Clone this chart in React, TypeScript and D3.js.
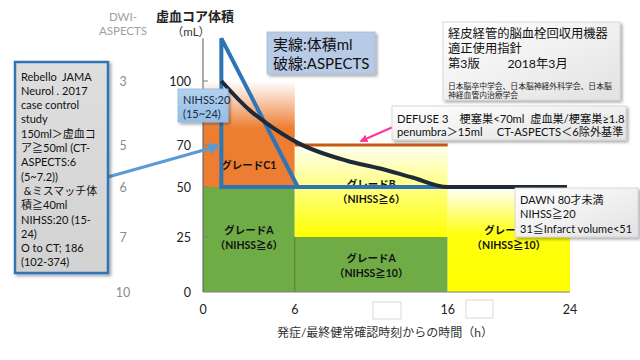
import React from "react";
import * as d3 from "d3";

// ---- data ----
const xTicks = [0, 6, 16, 24];
const yTicks = [0, 25, 50, 70, 100];
const aspectsTicks = ["10", "7", "6", "5", "3"];
const curveTime = [1.2, 3.1, 4.1, 6.2, 9.4, 11.6, 13.7, 16, 23.8];
const curveVolume = [100, 86, 80.5, 71, 62.5, 58.8, 54.5, 50, 50];
const blueTime = [6.2, 1.2, 1.2, 16];
const blueVolume = [50, 120, 50, 50];
const gradeNames = ["グレードA", "グレードA", "グレードC1", "グレードB", "グレードB"];
const gradeNihss = ["（NIHSS≧6）", "（NIHSS≧10）", "", "（NIHSS≧6）", "（NIHSS≧10）"];
const gradeT0 = [0, 6, 0, 6, 16];
const gradeT1 = [6, 16, 6, 16, 24];
const gradeV0 = [0, 0, 50, 25, 0];
const gradeV1 = [50, 25, 100, 70, 50];
const gradeLabelV = [25, 12.5, 60.5, 48, 25];
const defuseLimit = [6, 16, 70];
const leftNote = [
  "Rebello  JAMA",
  "Neurol . 2017",
  "case control",
  "study",
  "150ml＞虚血コ",
  "ア≧50ml (CT-",
  "ASPECTS:6",
  "(5~7.2))",
  " &ミスマッチ体",
  "積≧40ml",
  "NIHSS:20 (15-",
  "24)",
  "O to CT; 186",
  "(102-374)",
];
const titleLines = ["経皮経管的脳血栓回収用機器", "適正使用指針", "第3版　　 2018年3月"];
const societyLines = ["日本脳卒中学会、日本脳神経外科学会、日本脳", "神経血管内治療学会"];
const defuseLines = ["DEFUSE 3　梗塞巣<70ml  虚血巣/梗塞巣≥1.8", "penumbra＞15ml　 CT-ASPECTS＜6除外基準"];
const dawnLines = ["DAWN 80才未満", "NIHSS≧20", "31≦Infarct volume<51"];

const FONT = "Lato, 'Noto Sans CJK JP', 'Noto Sans', sans-serif";
const regionFills = ["#6fac46", "#6fac46", "url(#gOrange)", "url(#gYellowB)", "url(#gYellowB2)"];

export default function App() {
  const x = d3.scaleLinear().domain([0, 24]).range([203, 570]);
  const y = d3.scaleLinear().domain([0, 25, 50, 70, 100]).range([292, 237, 187, 145, 81]);
  const yTop = d3.scaleLinear().domain([70, 100]).range([145, 81]);

  const curvePts = curveTime.map((t, i) => [x(t), y(curveVolume[i])] as [number, number]);
  const curvePath = d3.line().curve(d3.curveMonotoneX)(curvePts) || "";
  const bluePts = blueTime.map((t, i) => [x(t), blueVolume[i] > 100 ? yTop(blueVolume[i]) : y(blueVolume[i])] as [number, number]);
  const bluePath = d3.line()(bluePts) || "";

  return (
    <svg width={640} height={360} style={{ position: "absolute", left: 0, top: 0, background: "#fff" }} fontFamily={FONT}>
      <defs>
        <linearGradient id="gOrange" x1="0" y1="0" x2="0" y2="1">
          <stop offset="0%" stopColor="#ffffff" />
          <stop offset="18%" stopColor="#f8cdb2" />
          <stop offset="45%" stopColor="#ed7d31" />
          <stop offset="100%" stopColor="#ed7d31" />
        </linearGradient>
        <linearGradient id="gYellowB" x1="0" y1="0" x2="0" y2="1">
          <stop offset="0%" stopColor="#fffff2" />
          <stop offset="65%" stopColor="#ffff55" />
          <stop offset="100%" stopColor="#ffff00" />
        </linearGradient>
        <linearGradient id="gYellowB2" x1="0" y1="0" x2="0" y2="1">
          <stop offset="0%" stopColor="#ffffff" />
          <stop offset="45%" stopColor="#ffff10" />
          <stop offset="100%" stopColor="#ffff00" />
        </linearGradient>
        <linearGradient id="gNihss" x1="0" y1="0" x2="0" y2="1">
          <stop offset="0%" stopColor="#b4d2f0" />
          <stop offset="100%" stopColor="#94bde6" />
        </linearGradient>
        <linearGradient id="gGray" x1="0" y1="0" x2="1" y2="1">
          <stop offset="0%" stopColor="#ffffff" />
          <stop offset="100%" stopColor="#e2e2e2" />
        </linearGradient>
        <linearGradient id="gLeft" x1="0" y1="0" x2="0" y2="1">
          <stop offset="0%" stopColor="#dedede" />
          <stop offset="100%" stopColor="#d2d2d2" />
        </linearGradient>
        <filter id="shadow" x="-10%" y="-10%" width="130%" height="130%">
          <feDropShadow dx="2" dy="2" stdDeviation="1.5" floodColor="#000" floodOpacity="0.35" />
        </filter>
        <marker id="arrowBlue" viewBox="0 0 10 10" refX="8" refY="5" markerWidth="4" markerHeight="4" orient="auto">
          <path d="M0,0 L10,5 L0,10 z" fill="#5b9bd5" />
        </marker>
        <marker id="arrowPink" viewBox="0 0 10 10" refX="8" refY="5" markerWidth="4" markerHeight="4" orient="auto">
          <path d="M0,0 L10,5 L0,10 z" fill="#ff3399" />
        </marker>
      </defs>

      {/* regions */}
      {gradeT0.map((t0, i) => (
        <rect key={"r" + i} x={x(t0)} y={y(gradeV1[i])} width={x(gradeT1[i]) - x(t0)} height={y(gradeV0[i]) - y(gradeV1[i])} fill={regionFills[i]} />
      ))}
      <line x1={x(6)} x2={x(6)} y1={y(0)} y2={y(25)} stroke="#4a7a30" strokeWidth={1} />

      {/* grade labels */}
      {gradeNames.map((n, i) => {
        const cx = (x(gradeT0[i]) + x(gradeT1[i])) / 2;
        const cy = y(gradeLabelV[i]);
        const two = gradeNihss[i] !== "";
        return (
          <g key={"g" + i} fontSize={10.5} fontWeight="bold" fill="#111" textAnchor="middle">
            <text x={cx} y={two ? cy - 7 : cy} dominantBaseline="central">{n}</text>
            {two && <text x={cx} y={cy + 8} dominantBaseline="central">{gradeNihss[i]}</text>}
          </g>
        );
      })}

      {/* DEFUSE limit line */}
      <line x1={x(defuseLimit[0])} x2={x(defuseLimit[1])} y1={y(defuseLimit[2])} y2={y(defuseLimit[2])} stroke="#c55a11" strokeWidth={3} />

      {/* axes */}
      <line x1={x(0)} x2={x(24)} y1={y(0)} y2={y(0)} stroke="#7f7f7f" strokeWidth={1} />
      <line x1={x(0)} x2={x(0)} y1={y(0)} y2={yTop(120)} stroke="#595959" strokeWidth={1} />
      {yTicks.map((v, i) => (
        <g key={"yt" + i}>
          {v > 0 && <line x1={x(0)} x2={x(0) + 5} y1={y(v)} y2={y(v)} stroke="#7f7f7f" />}
          <text x={191} y={y(v)} textAnchor="end" dominantBaseline="central" fontSize={12.5} fill="#222">{v}</text>
          <text x={123} y={y(v)} textAnchor="middle" dominantBaseline="central" fontSize={12.5} fill="#8c8c8c">{aspectsTicks[i]}</text>
        </g>
      ))}
      {xTicks.map((t) => (
        <text key={"xt" + t} x={x(t)} y={309} textAnchor="middle" dominantBaseline="central" fontSize={12.5} fill="#222">{t}</text>
      ))}
      <text x={385} y={332} textAnchor="middle" dominantBaseline="central" fontSize={12} fill="#333">発症/最終健常確認時刻からの時間（h）</text>
      <text x={195} y={16} textAnchor="middle" dominantBaseline="central" fontSize={13} fontWeight="bold" fill="#222">虚血コア体積</text>
      <text x={191} y={31} textAnchor="middle" dominantBaseline="central" fontSize={11.5} fill="#333">（mL）</text>
      <text x={123} y={16} textAnchor="middle" dominantBaseline="central" fontSize={11.5} fill="#a0a0a0">DWI-</text>
      <text x={123} y={30} textAnchor="middle" dominantBaseline="central" fontSize={11.5} fill="#a0a0a0">ASPECTS</text>

      {/* empty boxes near the x axis */}
      <rect x={373} y={302} width={28} height={17} fill="#fff" stroke="#d9d9d9" />
      <rect x={466} y={300} width={27} height={18} fill="#fff" stroke="#d9d9d9" />

      {/* lines */}
      <path d={bluePath} fill="none" stroke="#2e75b6" strokeWidth={4} strokeLinejoin="miter" />
      <path d={curvePath} fill="none" stroke="#1f2a38" strokeWidth={4} />

      {/* connectors */}
      <line x1={108} y1={177} x2={x(1)} y2={y(69.5)} stroke="#5b9bd5" strokeWidth={3} markerEnd="url(#arrowBlue)" />
      <line x1={393} y1={127} x2={361} y2={141} stroke="#ff3399" strokeWidth={2} markerEnd="url(#arrowPink)" />

      {/* left note box */}
      <rect x={15} y={62} width={93} height={211} fill="url(#gLeft)" stroke="#2e75b6" strokeWidth={2.5} filter="url(#shadow)" />
      {leftNote.map((l, i) => (
        <text key={"ln" + i} x={21} y={76 + i * 14.3} dominantBaseline="central" fontSize={11} fill="#111" xmlSpace="preserve">{l}</text>
      ))}

      {/* NIHSS box */}
      <rect x={178} y={89} width={50} height={33} fill="url(#gNihss)" stroke="#8fb6df" strokeWidth={0.8} filter="url(#shadow)" />
      <text x={183} y={99} dominantBaseline="central" fontSize={11} fill="#1a2a40">NIHSS:20</text>
      <text x={183} y={113} dominantBaseline="central" fontSize={11} fill="#1a2a40">(15~24)</text>

      {/* legend note */}
      <rect x={267} y={32} width={108} height={42} fill="#b7cae6" stroke="#a4b9da" strokeWidth={0.8} filter="url(#shadow)" />
      <text x={273} y={44} dominantBaseline="central" fontSize={15} fill="#111">実線:体積ml</text>
      <text x={273} y={63} dominantBaseline="central" fontSize={15} fill="#111">破線:ASPECTS</text>

      {/* title box */}
      <rect x={443} y={22} width={177} height={78} fill="url(#gGray)" stroke="#d0d0d0" strokeWidth={0.8} filter="url(#shadow)" />
      {titleLines.map((l, i) => (
        <text key={"tl" + i} x={448} y={33 + i * 15} dominantBaseline="central" fontSize={12.3} fill="#111" xmlSpace="preserve">{l}</text>
      ))}
      {societyLines.map((l, i) => (
        <text key={"sl" + i} x={448} y={86 + i * 8.5} dominantBaseline="central" fontSize={7.8} fill="#222">{l}</text>
      ))}

      {/* DEFUSE box */}
      <rect x={392} y={106} width={234} height={34} fill="url(#gGray)" stroke="#d0d0d0" strokeWidth={0.8} filter="url(#shadow)" />
      {defuseLines.map((l, i) => (
        <text key={"dl" + i} x={397} y={118 + i * 13.5} dominantBaseline="central" fontSize={11.2} fill="#111" xmlSpace="preserve">{l}</text>
      ))}

      {/* DAWN box */}
      <rect x={515} y={188} width={123} height={49} fill="url(#gGray)" stroke="#d0d0d0" strokeWidth={0.8} filter="url(#shadow)" />
      {dawnLines.map((l, i) => (
        <text key={"dw" + i} x={520} y={199 + i * 14.5} dominantBaseline="central" fontSize={11} fill="#111">{l}</text>
      ))}
    </svg>
  );
}
